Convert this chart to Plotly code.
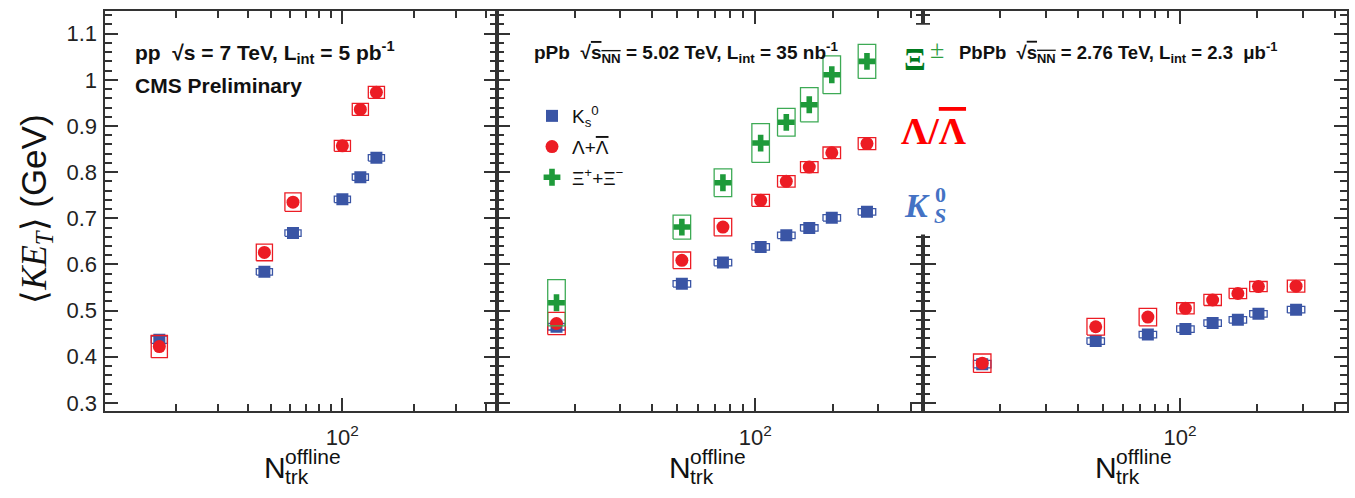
import plotly.graph_objects as go

# ---------------- data ----------------
x_pp = [17, 47, 62, 100, 119, 139]
k0s_pp = [0.437, 0.584, 0.668, 0.741, 0.789, 0.831]
k0s_pp_sys = [0.008, 0.007, 0.007, 0.007, 0.007, 0.007]
lam_pp = [0.422, 0.626, 0.735, 0.857, 0.936, 0.973]
lam_pp_sys = [0.024, 0.018, 0.020, 0.012, 0.013, 0.013]

x_ppb = [17, 52, 75, 105, 132, 162, 198, 271]
k0s_ppb = [0.465, 0.558, 0.604, 0.638, 0.663, 0.679, 0.701, 0.714]
k0s_ppb_sys = [0.007, 0.007, 0.007, 0.007, 0.007, 0.007, 0.007, 0.007]
lam_ppb = [0.472, 0.609, 0.681, 0.739, 0.780, 0.811, 0.842, 0.862]
lam_ppb_sys = [0.024, 0.018, 0.019, 0.013, 0.0125, 0.012, 0.0125, 0.013]
xi_ppb = [0.517, 0.681, 0.777, 0.863, 0.908, 0.946, 1.011, 1.040]
xi_ppb_sys = [0.050, 0.026, 0.030, 0.042, 0.030, 0.037, 0.041, 0.037]

x_pbpb = [17, 47, 75, 105, 134, 168, 202, 283]
k0s_pbpb = [0.384, 0.434, 0.448, 0.460, 0.473, 0.480, 0.493, 0.502]
k0s_pbpb_sys = [0.008, 0.007, 0.007, 0.007, 0.007, 0.007, 0.007, 0.007]
lam_pbpb = [0.386, 0.465, 0.486, 0.505, 0.523, 0.537, 0.552, 0.553]
lam_pbpb_sys = [0.020, 0.018, 0.019, 0.012, 0.012, 0.011, 0.011, 0.013]

y_ticks = [0.3, 0.4, 0.5, 0.6, 0.7, 0.8, 0.9, 1.0, 1.1]
y_ticktext = ["0.3", "0.4", "0.5", "0.6", "0.7", "0.8", "0.9", "1", "1.1"]
x_major = [100]
x_major_text = ["10<sup>2</sup>"]
x_minor = [20, 30, 40, 50, 60, 70, 80, 90, 200, 300, 400]

BLUE = "#3A55A5"
RED = "#EC1C24"
GREEN = "#1E9A3A"
GREEN_BOX = "#3DAA55"
AX = "#333333"

W, H = 1355, 498

OVER = '<span style="text-decoration:overline">%s</span>'


def boxes(xs, ys, hs, w=0.034):
    f = 10 ** w
    bx, by = [], []
    for x, y, h in zip(xs, ys, hs):
        bx += [x / f, x * f, x * f, x / f, x / f, None]
        by += [y - h, y - h, y + h, y + h, y - h, None]
    return bx, by


fig = go.Figure()

panels = [
    ("x", "y", x_pp, [(k0s_pp, k0s_pp_sys), (lam_pp, lam_pp_sys), None]),
    ("x2", "y2", x_ppb, [(k0s_ppb, k0s_ppb_sys), (lam_ppb, lam_ppb_sys), (xi_ppb, xi_ppb_sys)]),
    ("x3", "y3", x_pbpb, [(k0s_pbpb, k0s_pbpb_sys), (lam_pbpb, lam_pbpb_sys), None]),
]
styles = [
    dict(name="K<sub>s</sub><sup>0</sup>", color=BLUE, box=BLUE, symbol="square", size=12),
    dict(name="Λ+" + OVER % "Λ", color=RED, box=RED, symbol="circle", size=13),
    dict(name="Ξ<sup>+</sup>+Ξ<sup>−</sup>", color=GREEN, box=GREEN_BOX, symbol="cross", size=14),
]

for xa, ya, xs, series in panels:
    for i, s in enumerate(series):
        if s is None:
            continue
        vals, sys = s
        st = styles[i]
        bx, by = boxes(xs, vals, sys)
        fig.add_trace(go.Scatter(x=bx, y=by, xaxis=xa, yaxis=ya, mode="lines",
                                 line=dict(color=st["box"], width=1.3),
                                 showlegend=False, hoverinfo="skip"))
        fig.add_trace(go.Scatter(x=xs, y=vals, xaxis=xa, yaxis=ya, mode="markers",
                                 marker=dict(symbol=st["symbol"], size=st["size"], color=st["color"],
                                             line=dict(width=0)),
                                 name=st["name"], legendgroup=str(i),
                                 showlegend=(xa == "x2")))

# ---------------- axes ----------------
dom_y = [1 - 415 / H, 1 - 11 / H]
doms_x = [[104.5 / W, 497 / W], [497 / W, 923 / W], [923 / W, 1347 / W]]

tickfont = dict(family="Liberation Sans", size=22, color="#222")
for k, dom in enumerate(doms_x):
    sfx = "" if k == 0 else str(k + 1)
    fig.layout["xaxis" + sfx] = dict(
        domain=dom, type="log", range=[1.0, 2.65], anchor="y" + sfx,
        tickmode="array", tickvals=x_major, ticktext=x_major_text,
        ticks="inside", ticklen=13, tickwidth=1.5, tickcolor=AX,
        minor=dict(tickmode="array", tickvals=x_minor, ticks="inside", ticklen=7,
                   tickwidth=1.5, tickcolor=AX),
        showline=True, linecolor=AX, linewidth=2, mirror="allticks",
        showgrid=False, zeroline=False, tickfont=tickfont, ticklabelstandoff=6)
    fig.layout["yaxis" + sfx] = dict(
        domain=dom_y, range=[0.2828, 1.1494], anchor="x" + sfx,
        tickmode="array", tickvals=y_ticks, ticktext=y_ticktext,
        ticks="inside", ticklen=13, tickwidth=1.5, tickcolor=AX,
        minor=dict(dtick=0.02, tick0=0, ticks="inside", ticklen=7, tickwidth=1.5, tickcolor=AX),
        showline=True, linecolor=AX, linewidth=2, mirror="allticks",
        showgrid=False, zeroline=False, tickfont=tickfont, ticklabelstandoff=1,
        showticklabels=(k == 0), matches=None if k == 0 else "y")

# white patch hiding the shared axis behind the big labels
fig.add_shape(type="rect", xref="paper", yref="paper", x0=900 / W, x1=952 / W,
              y0=1 - 237 / H, y1=1 - 25 / H, fillcolor="white", line=dict(width=0), layer="above")

ann = []


def px(xp, yp):
    return xp / W, 1 - yp / H


SANS = "Liberation Sans"
SERIF = "Liberation Serif"

# y-axis title
x0, y0 = px(36, 212)
ann.append(dict(x=x0, y=y0, xref="paper", yref="paper", textangle=-90, showarrow=False,
                xanchor="center", yanchor="middle",
                text='<span style="font-family:Liberation Serif">⟨<i>KE</i><sub><i>T</i></sub>⟩</span> (GeV)',
                font=dict(family=SANS, size=35, color="#111")))

# x-axis titles
for dom in doms_x:
    left = dom[0] * W + 0.40 * (dom[1] - dom[0]) * W
    x0, y0 = px(left, 472)
    ann.append(dict(x=x0, y=y0, xref="paper", yref="paper", showarrow=False, xanchor="left",
                    yanchor="middle", text="N", font=dict(family=SANS, size=30, color="#111")))
    x0, y0 = px(left + 21, 461)
    ann.append(dict(x=x0, y=y0, xref="paper", yref="paper", showarrow=False, xanchor="left",
                    yanchor="middle", text="offline", font=dict(family=SANS, size=21, color="#111")))
    x0, y0 = px(left + 21, 481)
    ann.append(dict(x=x0, y=y0, xref="paper", yref="paper", showarrow=False, xanchor="left",
                    yanchor="middle", text="trk", font=dict(family=SANS, size=21, color="#111")))

# panel labels
labels = [
    (133, 53, 21, "<b>pp  √s = 7 TeV, L<sub>int</sub> = 5 pb<sup>-1</sup></b>"),
    (133, 86, 21, "<b>CMS Preliminary</b>"),
    (532, 53, 19, "<b>pPb  √" + OVER % "s<sub>NN</sub>" + " = 5.02 TeV, L<sub>int</sub> = 35 nb<sup>-1</sup></b>"),
    (957, 53, 18.5, "<b>PbPb  √" + OVER % "s<sub>NN</sub>" + " = 2.76 TeV, L<sub>int</sub> = 2.3  μb<sup>-1</sup></b>"),
]
for xp, yp, fs, t in labels:
    x0, y0 = px(xp, yp)
    ann.append(dict(x=x0, y=y0, xref="paper", yref="paper", showarrow=False, xanchor="left",
                    yanchor="middle", text=t, font=dict(family=SANS, size=fs, color="#111")))

# big coloured labels
big = [
    (915, 60, "<b>Ξ</b>", dict(family=SERIF, size=32, color="#007A1E")),
    (937, 50, "±", dict(family=SERIF, size=26, color="#2E9E3E")),
    (934, 132, "<b>Λ/" + OVER % "Λ" + "</b>", dict(family=SERIF, size=38, color="#FF0000")),
    (917, 208, "<b><i>K</i></b>", dict(family=SERIF, size=34, color="#4472C4")),
    (940, 196, "<b>0</b>", dict(family=SERIF, size=22, color="#4472C4")),
    (940, 218, "<b><i>S</i></b>", dict(family=SERIF, size=22, color="#4472C4")),
]
for xp, yp, t, f in big:
    x0, y0 = px(xp, yp)
    ann.append(dict(x=x0, y=y0, xref="paper", yref="paper", showarrow=False, xanchor="center",
                    yanchor="middle", text=t, font=f))

fig.update_layout(
    width=W, height=H, margin=dict(l=0, r=0, t=0, b=0),
    paper_bgcolor="white", plot_bgcolor="white",
    annotations=ann,
    legend=dict(x=532 / W, y=1 - 98 / H, xanchor="left", yanchor="top",
                bgcolor="rgba(0,0,0,0)", font=dict(family=SANS, size=19, color="#111"),
                tracegroupgap=3, itemwidth=30),
)

fig.write_html("out.html")
